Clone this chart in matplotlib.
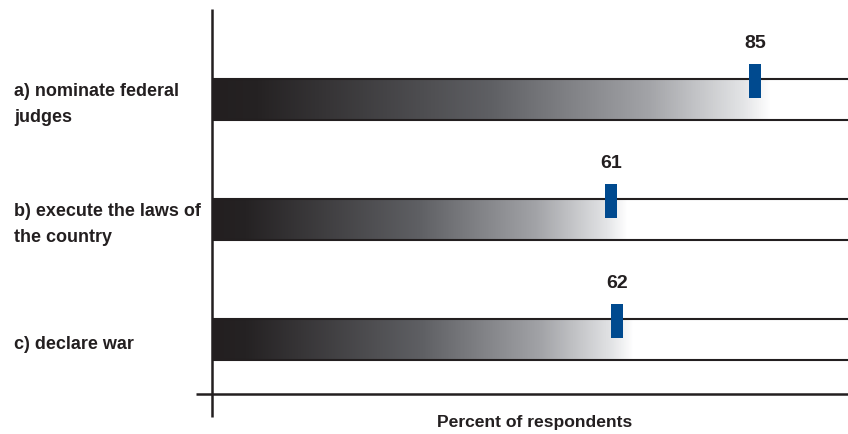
import matplotlib
matplotlib.use("Agg")
import matplotlib.pyplot as plt
import numpy as np
from matplotlib.colors import LinearSegmentedColormap
from matplotlib.patches import Rectangle

categories = ["a) nominate federal\njudges",
              "b) execute the laws of\nthe country",
              "c) declare war"]
values = [85, 61, 62]
xlabel = "Percent of respondents"

FONT = ["Liberation Sans", "DejaVu Sans"]
DARK = "#231f20"
BLUE = "#004a8f"

W, H = 848, 435
fig = plt.figure(figsize=(W / 100, H / 100), dpi=100)
ax = fig.add_axes([212 / W, (H - 418) / H, (W - 212) / W, (418 - 10) / H])

x0, x1 = -5.5, 100.5
ax.set_xlim(x0, x1)
ax.set_ylim(2.646, -0.754)
ax.axis("off")

cmap = LinearSegmentedColormap.from_list(
    "fade",
    [(0.0, DARK), (0.08, "#252223"), (0.5, "#5f6064"),
     (0.78, "#a2a3a7"), (0.95, "#e3e4e6"), (1.0, "#ffffff")])
grad = np.linspace(0, 1, 512).reshape(1, -1)

half = 0.171
for i, (cat, v) in enumerate(zip(categories, values)):
    fade_end = v + 2.8
    ax.imshow(grad, cmap=cmap, aspect="auto", interpolation="bilinear",
              extent=(x0, fade_end, i + half, i - half), zorder=1)
    for yy in (i - half, i + half):
        ax.plot([x0, x1], [yy, yy], color=DARK, lw=1.5,
                solid_capstyle="butt", zorder=2)
    ax.add_patch(Rectangle((v - 0.92, i - 0.296), 1.84, 0.284,
                           facecolor=BLUE, edgecolor="none", zorder=3))
    ax.text(v, i - 0.475, str(v), ha="center", va="center",
            fontsize=14, fontweight="bold", color=DARK, family=FONT)
    fig.text(14 / W, 1 - (100.5 + 120 * i + 4) / H, cat, ha="left",
             va="center", fontsize=13, fontweight="bold", color=DARK,
             family=FONT, linespacing=1.75)

# axis lines
ax.plot([x0, x0], [-0.754, 2.646], color=DARK, lw=1.8, clip_on=False,
        solid_capstyle="butt", zorder=4)
ax.plot([x0 - 2.67, x1], [2.454, 2.454], color=DARK, lw=1.8,
        clip_on=False, solid_capstyle="butt", zorder=4)

fig.text(535 / W, 1 - 423 / H, xlabel, ha="center", va="center",
         fontsize=12.6, fontweight="bold", color=DARK, family=FONT)

fig.savefig("out.png", dpi=100)
